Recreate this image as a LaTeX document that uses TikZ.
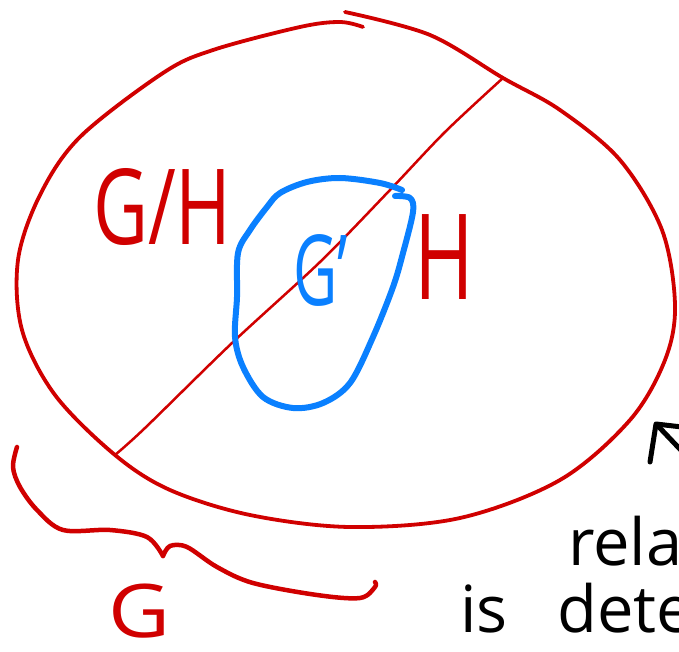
\documentclass[tikz,border=0pt]{standalone}
\usepackage{fontspec}
\setmainfont{Open Sans}
\definecolor{penred}{HTML}{D00000}
\definecolor{penblue}{HTML}{0A80FF}
\tikzset{
  redstroke/.style={draw=penred, line width=3.8pt, line cap=round, line join=round},
  thinred/.style={draw=penred, line width=2.5pt, line cap=round},
  bluestroke/.style={draw=penblue, line width=6pt, line cap=round, line join=round},
  blackstroke/.style={draw=black, line width=5pt, line cap=round, line join=round},
  lbl/.style={inner sep=0pt, outer sep=0pt, anchor=base west},
}
\begin{document}
\begin{tikzpicture}[x=1pt,y=-1pt]
\useasboundingbox (0,0) rectangle (679,652);
\clip (0,0) rectangle (679,652);
\fill[white] (0,0) rectangle (679,652);

% outer set G
\draw[redstroke] plot[smooth, tension=0.55] coordinates {
 (363,27) (340,22) (300,27) (213,50) (163,73) (80,137) (40,195) (18,260)
 (22,330) (55,395) (115,455) (170,490) (250,515) (350,527) (460,518)
 (560,480) (630,420) (665,360) (675,305) (662,230) (620,160) (560,110)
 (503,78) (430,35) (345,12)};

% diagonal line H
\draw[thinred] plot[smooth, tension=0.5] coordinates {
 (115,455) (145,428) (232,343) (320,262) (390,190) (445,132) (503,78)};

% blue set G'
\draw[bluestroke] plot[smooth, tension=0.55] coordinates {
 (395,196) (410,198) (413,212) (403,253) (393,287) (373,337) (350,383)
 (323,403) (293,408) (263,397) (243,367) (235,337) (237,297) (238,253)
 (250,230) (267,207) (280,193) (307,182) (340,178) (380,183) (402,190)};

% brace
\draw[redstroke, line width=4.5pt] plot[smooth, tension=0.55] coordinates {
 (17,447) (13,467) (20,487) (37,510) (63,530) (110,530) (147,537) (163,556)};
\draw[redstroke, line width=4.5pt] plot[smooth, tension=0.55] coordinates {
 (163,556) (170,546) (187,547) (217,567) (253,583) (317,595) (360,598)
 (375,587) (375,582)};

% black arrow (cut at the edge)
\draw[blackstroke] (650,462) -- (656,424) -- (682,427);
\draw[blackstroke] (658,426) -- (695,465);

% labels
\node[lbl, text=penred] (gh) at (93,244)
  {\fontsize{105}{105}\selectfont\scalebox{0.72}[1]{G/H}};
\node[lbl, text=penred] (h) at (414,299)
  {\fontsize{119}{119}\selectfont\scalebox{0.68}[1]{H}};
\node[lbl, text=penblue] (gp) at (293,305)
  {\fontsize{98}{98}\selectfont\scalebox{0.62}[1]{G'}};
\node[lbl, text=penred] (g) at (108,637)
  {\fontsize{74}{74}\selectfont\scalebox{1.15}[1]{G}};
\node[lbl, text=black] (t1) at (568,565)
  {\fontsize{65}{65}\selectfont rela};
\node[lbl, text=black] (t2) at (460,632)
  {\fontsize{65}{65}\selectfont is\hspace{50pt}dete};
\end{tikzpicture}
\end{document}
